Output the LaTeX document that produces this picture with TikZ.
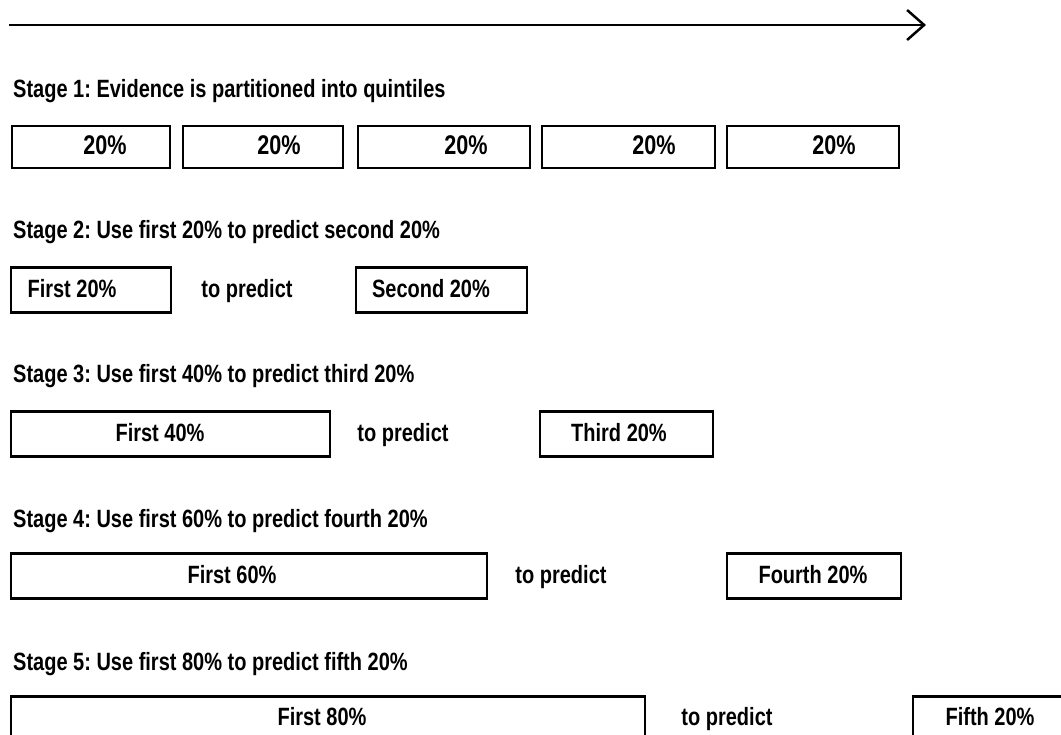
\documentclass[tikz,border=0pt]{standalone}
\usepackage{fontspec}
\setmainfont[FakeStretch=0.8]{Liberation Sans}
\usetikzlibrary{arrows.meta}
\tikzset{>={Straight Barb[length=17pt,width=30pt]}}
\tikzset{
	part/.style = {draw, line width = 2.5pt, minimum height = 45pt, inner sep = 0pt},
	txt/.style = {font = \fontsize{25}{29}\selectfont\bfseries, inner sep = 0pt, anchor = base}
}
\frenchspacing

\begin{document}
\begin{tikzpicture}[x = 1pt, y = -1pt]
	\useasboundingbox (0,0) rectangle (1061,735);
	\clip (0,0) rectangle (1061,735);
	\coordinate (start) at (9,25);
	\coordinate (stop) at (926,25);
	\draw [->, line width = 2.5pt] (start) -- (stop);
	\foreach \y/\t [count=\i] in {98/Evidence is partitioned into quintiles, 239/Use first 20\% to predict second 20\%, 383/Use first 40\% to predict third 20\%, 527/Use first 60\% to predict fourth 20\%, 670/Use first 80\% to predict fifth 20\%}
	\node [txt, anchor = base west] (stage\i) at (13,\y) {Stage \i: \t};
	\foreach \l/\r/\c [count=\i] in {12/170/105, 183/343/279, 358/530/466, 542/715/654, 727/899/834} {
		\node [part, minimum width = {(\r-\l)*1pt}, minimum height = 42pt] (q\i) at ({(\l+\r)/2},147) {};
		\node [txt, font = \fontsize{27}{31}\selectfont\bfseries] (q\i-lab) at (\c,155) {20\%};
	}
	\foreach \y/\b/\fr/\fc/\pc/\tl/\tr/\tc/\p/\w [count=\i from 2] in {
		290/298/171/72/247/356/527/431/20/Second,
		434/442/330/160/403/540/713/619/40/Third,
		576/583/487/232/561/727/901/813/60/Fourth,
		719/725/645/322/727/913/1090/990/80/Fifth} {
		\node [part, minimum width = {(\fr-11)*1pt}] (first\i) at ({(11+\fr)/2},\y) {};
		\node [txt] (first\i-lab) at (\fc,\b) {First \p\%};
		\node [txt] (pred\i) at (\pc,\b) {to predict};
		\node [part, minimum width = {(\tr-\tl)*1pt}] (next\i) at ({(\tl+\tr)/2},\y) {};
		\node [txt] (next\i-lab) at (\tc,\b) {\w\ 20\%};
	}
\end{tikzpicture}
\end{document}
